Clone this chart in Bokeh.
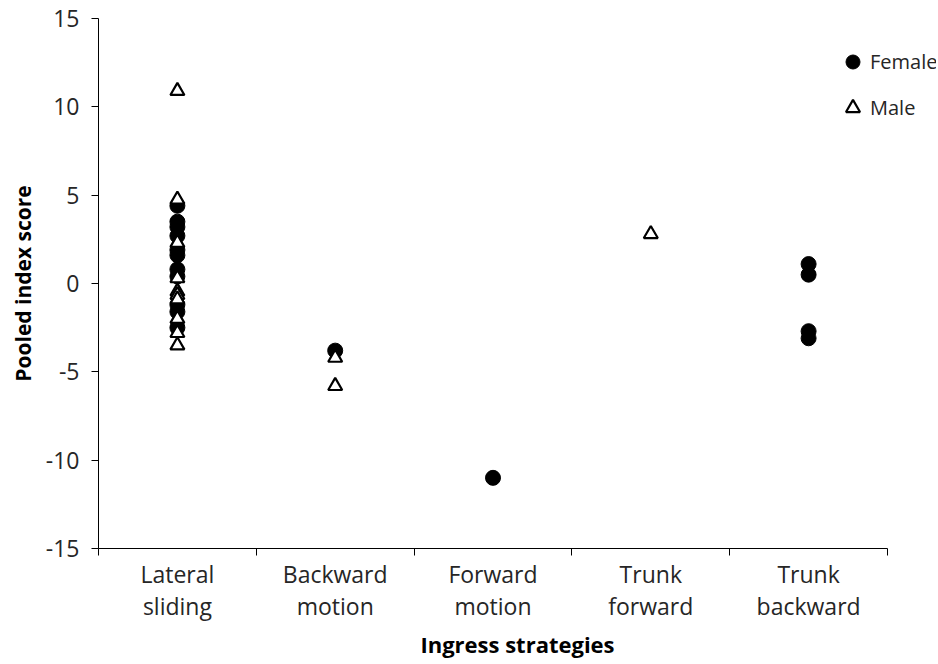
from bokeh.plotting import figure
from bokeh.models import (Range1d, FixedTicker, ColumnDataSource, Legend, LegendItem)
from bokeh.embed import file_html
from bokeh.resources import INLINE

categories = ["Lateral\nsliding", "Backward\nmotion", "Forward\nmotion", "Trunk\nforward", "Trunk\nbackward"]

# Female scores per category (index 1..5)
female_cat = [1]*11 + [2] + [3] + [5]*4
female_val = [4.4, 3.5, 3.2, 2.7, 1.9, 1.6, 0.8, 0.4, -1.2, -1.6, -2.5,
              -3.8,
              -11.0,
              1.1, 0.5, -2.7, -3.1]

# Male scores per category
male_cat = [1]*10 + [2]*2 + [4]
male_val = [10.9, 4.75, 2.3, 0.3, -0.45, -0.65, -0.9, -2.0, -2.8, -3.5,
            -4.2, -5.8,
            2.8]

y_ticks = [-15, -10, -5, 0, 5, 10, 15]
FONT = "Open Sans"

# frame extends to the right of the axis so the legend text is not clipped
AXIS_W = 789
FRAME_W = 838
x_end = 0.5 + 5 * FRAME_W / AXIS_W

p = figure(output_backend="svg", toolbar_location=None,
           x_range=Range1d(0.5, x_end), y_range=Range1d(-15, 15),
           frame_width=FRAME_W, frame_height=530,
           min_border_left=98, min_border_top=18, min_border_right=0, min_border_bottom=100)
p.outline_line_color = None
p.grid.visible = False
p.background_fill_color = "white"
p.border_fill_color = "white"

fsrc = ColumnDataSource(dict(x=female_cat, y=female_val))
msrc = ColumnDataSource(dict(x=male_cat, y=male_val))
r_f = p.scatter("x", "y", source=fsrc, marker="circle", size=15,
                fill_color="black", line_color="black")
r_m = p.scatter("x", "y", source=msrc, marker="triangle", size=14,
                fill_color="white", line_color="black", line_width=2.2)

xa = p.xaxis[0]
xa.bounds = (0.5, 5.5)
xa.ticker = FixedTicker(ticks=[1, 2, 3, 4, 5], minor_ticks=[0.5, 1.5, 2.5, 3.5, 4.5, 5.5])
xa.major_label_overrides = {i + 1: c for i, c in enumerate(categories)}
xa.major_tick_out = 0
xa.major_tick_in = 0
xa.minor_tick_out = 7
xa.minor_tick_in = 0
xa.minor_tick_line_color = "black"
xa.axis_line_color = "black"
xa.axis_line_width = 1
xa.major_label_text_font = FONT
xa.major_label_text_font_size = "23px"
xa.major_label_text_color = "#262626"
xa.major_label_text_line_height = 1.0
xa.major_label_standoff = 2
xa.axis_label = "Ingress strategies"
xa.axis_label_text_font = FONT
xa.axis_label_text_font_style = "bold"
xa.axis_label_text_font_size = "22px"
xa.axis_label_text_color = "black"
xa.axis_label_standoff = 4

ya = p.yaxis[0]
ya.ticker = FixedTicker(ticks=y_ticks, minor_ticks=[])
ya.major_label_overrides = {t: str(t) for t in y_ticks}
ya.major_tick_out = 7
ya.major_tick_in = 0
ya.major_tick_line_color = "black"
ya.axis_line_color = "black"
ya.major_label_text_font = FONT
ya.major_label_text_font_size = "23px"
ya.major_label_text_color = "#262626"
ya.major_label_standoff = 12
ya.axis_label = "Pooled index score"
ya.axis_label_text_font = FONT
ya.axis_label_text_font_style = "bold"
ya.axis_label_text_font_size = "21px"
ya.axis_label_text_color = "black"
ya.axis_label_standoff = 6

legend = Legend(items=[LegendItem(label="Female", renderers=[r_f]),
                       LegendItem(label="Male", renderers=[r_m])],
                location=(737, 423), orientation="vertical",
                border_line_color=None, background_fill_alpha=0,
                padding=0, margin=0, spacing=11,
                glyph_width=35, glyph_height=35, label_height=35,
                label_standoff=-8,
                label_text_font=FONT, label_text_font_size="20px",
                label_text_color="#262626")
p.add_layout(legend, "center")

open("out.html", "w").write(file_html(p, INLINE))
